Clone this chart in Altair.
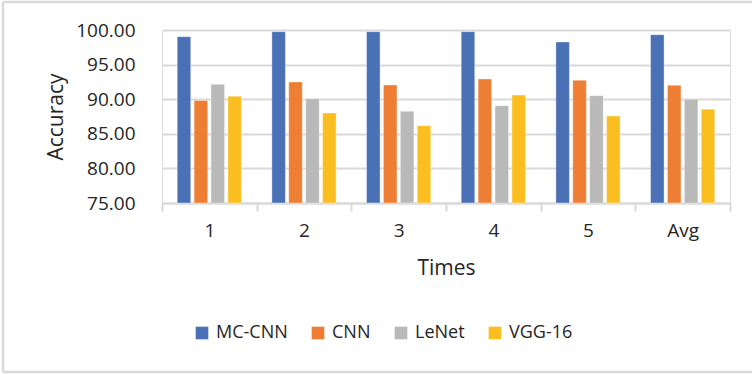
import altair as alt
import pandas as pd

# Accuracy of each model over five runs plus their average
times = ["1", "2", "3", "4", "5", "Avg"]
models = ["MC-CNN", "CNN", "LeNet", "VGG-16"]
mc_cnn = [99.03, 99.76, 99.76, 99.76, 98.27, 99.32]
cnn = [89.80, 92.49, 92.05, 92.92, 92.73, 92.00]
lenet = [92.15, 90.07, 88.25, 89.06, 90.51, 90.01]
vgg16 = [90.42, 88.00, 86.17, 90.60, 87.57, 88.55]
colors = ["#4A71B6", "#ED7E34", "#B9B9B9", "#FABE20"]
y_min = 75

series = {"MC-CNN": mc_cnn, "CNN": cnn, "LeNet": lenet, "VGG-16": vgg16}
rows = []
for m in models:
    for t, v in zip(times, series[m]):
        rows.append({"Times": t, "Model": m, "Accuracy": v})
df = pd.DataFrame(rows)

FONT = "Open Sans"
TEXT = "#262626"
GRID = "#D9D9D9"
W, H = 568, 173

bars = alt.Chart(df).mark_bar(stroke="white", strokeOpacity=0.45, strokeWidth=0.8).encode(
    x=alt.X(
        "Times:N",
        sort=times,
        scale=alt.Scale(paddingInner=0, paddingOuter=0),
        axis=alt.Axis(
            title="Times",
            labelAngle=0,
            labelFont=FONT,
            labelFontSize=19,
            labelColor=TEXT,
            labelPadding=10,
            tickBand="extent",
            tickSize=8,
            tickColor=GRID,
            tickWidth=2,
            domainColor=GRID,
            domainWidth=2,
            grid=False,
            titleFont=FONT,
            titleFontSize=21,
            titleFontWeight="normal",
            titleColor=TEXT,
            titleX=W / 2,
            titleY=65,
            titleBaseline="middle",
        ),
    ),
    xOffset=alt.XOffset(
        "Model:N", sort=models, scale=alt.Scale(paddingInner=0.2, paddingOuter=0.9)
    ),
    y=alt.Y(
        "Accuracy:Q",
        scale=alt.Scale(domain=[y_min, 100], nice=False, zero=False),
        axis=alt.Axis(
            title="Accuracy",
            values=[75, 80, 85, 90, 95, 100],
            format=".2f",
            labelFont=FONT,
            labelFontSize=19,
            labelColor=TEXT,
            labelPadding=27,
            ticks=False,
            domain=False,
            gridColor=GRID,
            gridWidth=2,
            titleFont=FONT,
            titleFontSize=21,
            titleFontWeight="normal",
            titleColor=TEXT,
            titleX=-106,
            titleY=H / 2,
            titleBaseline="middle",
        ),
    ),
    y2=alt.datum(y_min),
    color=alt.Color(
        "Model:N",
        sort=models,
        scale=alt.Scale(domain=models, range=colors),
        legend=alt.Legend(
            title=None,
            orient="none",
            direction="horizontal",
            legendX=31,
            legendY=294,
            symbolType="square",
            symbolSize=160,
            symbolStrokeWidth=0,
            labelFont=FONT,
            labelFontSize=18,
            labelColor=TEXT,
            labelOffset=5,
            columnPadding=21,
            gridAlign="none",
        ),
    ),
)

# light frame along the left, top and bottom of the figure
frame_df = pd.DataFrame({"k": [0]})
frame_h = alt.Chart(frame_df).mark_rule(stroke=GRID, strokeWidth=2.5).encode(
    x=alt.value(-159), x2=alt.value(W + 400), y=alt.value(-28)
)
frame_b = alt.Chart(frame_df).mark_rule(stroke=GRID, strokeWidth=2.5).encode(
    x=alt.value(-159), x2=alt.value(W + 400), y=alt.value(342)
)
frame_l = alt.Chart(frame_df).mark_rule(stroke=GRID, strokeWidth=2.5).encode(
    x=alt.value(-159), y=alt.value(-28), y2=alt.value(342)
)

chart = (
    alt.layer(bars, frame_h, frame_b, frame_l)
    .properties(
        width=W,
        height=H,
        autosize=alt.AutoSizeParams(type="none"),
        padding={"left": 162, "top": 30, "right": 22, "bottom": 171},
    )
    .configure_view(stroke=None)
    .configure(background="white")
)

chart.save("out.html", embed_options={"renderer": "svg", "actions": False})
